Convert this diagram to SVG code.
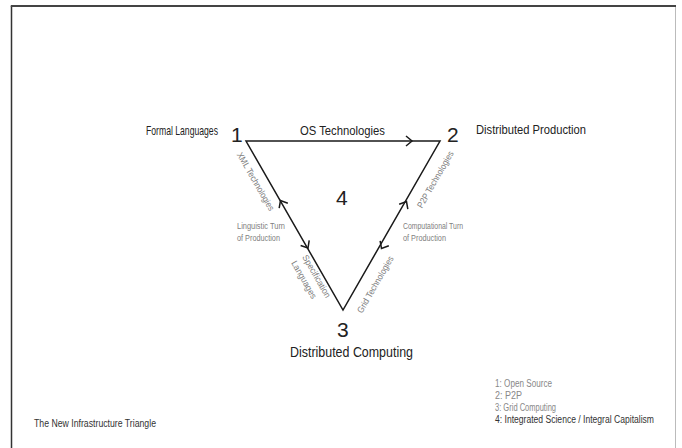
<svg xmlns="http://www.w3.org/2000/svg" width="682" height="448" viewBox="0 0 682 448">
<style>
text{font-family:"Liberation Sans Narrow","Liberation Sans",Arial,sans-serif}
.lbl{font-size:13.5px;fill:#222}
.num{font-size:21px;fill:#222}
.sm{font-size:9px;fill:#808080}
.lg{font-size:10px;fill:#888}
.edge{fill:none;stroke:#1a1a1a;stroke-width:1.5}
.arr{fill:none;stroke:none}
</style>
<defs>
<marker id="chev" markerUnits="userSpaceOnUse" markerWidth="14" markerHeight="14" viewBox="-8 -7 10 14" refX="0" refY="0" orient="auto">
<path d="M-6,-5 L0,0 L-6,5" fill="none" stroke="#1a1a1a" stroke-width="1.5"/>
</marker>
</defs>
<rect x="0" y="0" width="682" height="448" fill="#fff"/>
<g id="frame">
<line x1="11.5" y1="6" x2="11.5" y2="448" stroke="#333" stroke-width="1.5"/>
<line x1="10.8" y1="6" x2="676" y2="6" stroke="#444" stroke-width="2"/>
<line x1="675.5" y1="7" x2="675.5" y2="448" stroke="#bbb" stroke-width="1"/>
</g>
<g id="connectors">
<path class="edge" d="M246,141 L440,141 L343,310 Z"/>
<path class="arr" d="M400,141 L412,141" marker-end="url(#chev)"/>
<path class="arr" d="M286,210 L280.5,200.5" marker-end="url(#chev)"/>
<path class="arr" d="M302,238 L308,248" marker-end="url(#chev)"/>
<path class="arr" d="M401,211 L406.5,201.5" marker-end="url(#chev)"/>
<path class="arr" d="M387.5,238 L381.5,248.5" marker-end="url(#chev)"/>
</g>
<g id="node1">
<text class="num" x="231" y="142">1</text>
<text class="lbl" x="146" y="135" textLength="72" lengthAdjust="spacingAndGlyphs">Formal Languages</text>
</g>
<g id="node2">
<text class="num" x="447" y="142">2</text>
<text class="lbl" x="476" y="134" textLength="110" lengthAdjust="spacingAndGlyphs">Distributed Production</text>
</g>
<g id="node3">
<text class="num" x="337" y="337">3</text>
<text class="lbl" x="290" y="357" style="font-size:14px" textLength="123" lengthAdjust="spacingAndGlyphs">Distributed Computing</text>
</g>
<g id="node4">
<text class="num" x="336" y="205">4</text>
</g>
<g id="edge-labels">
<text class="lbl" x="300" y="135" textLength="85" lengthAdjust="spacingAndGlyphs">OS Technologies</text>
<text class="sm" transform="translate(253,183) rotate(60.1)" text-anchor="middle" textLength="66" lengthAdjust="spacingAndGlyphs">XML Technologies</text>
<text class="sm" transform="translate(302,257) rotate(60.1)" textLength="48" lengthAdjust="spacingAndGlyphs">Specification</text>
<text class="sm" transform="translate(291,263) rotate(60.1)" textLength="42" lengthAdjust="spacingAndGlyphs">Languages</text>
<text class="sm" transform="translate(438,181) rotate(-60.1)" text-anchor="middle" textLength="64" lengthAdjust="spacingAndGlyphs">P2P Technologies</text>
<text class="sm" transform="translate(378,286) rotate(-60.1)" text-anchor="middle" textLength="64" lengthAdjust="spacingAndGlyphs">Grid Technologies</text>
<text class="sm" x="237" y="229" textLength="48" lengthAdjust="spacingAndGlyphs">Linguistic Turn</text>
<text class="sm" x="237" y="241" textLength="43" lengthAdjust="spacingAndGlyphs">of Production</text>
<text class="sm" x="403" y="229" textLength="60" lengthAdjust="spacingAndGlyphs">Computational Turn</text>
<text class="sm" x="403" y="241" textLength="43" lengthAdjust="spacingAndGlyphs">of Production</text>
</g>
<g id="legend">
<text class="lg" x="495" y="387" textLength="57" lengthAdjust="spacingAndGlyphs">1: Open Source</text>
<text class="lg" x="495" y="399" textLength="27" lengthAdjust="spacingAndGlyphs">2: P2P</text>
<text class="lg" x="495" y="411" textLength="61" lengthAdjust="spacingAndGlyphs">3: Grid Computing</text>
<text class="lg" x="495" y="423" style="fill:#333" textLength="159" lengthAdjust="spacingAndGlyphs">4: Integrated Science / Integral Capitalism</text>
<text class="lg" x="34" y="427" style="fill:#333" textLength="122" lengthAdjust="spacingAndGlyphs">The New Infrastructure Triangle</text>
</g>
</svg>
